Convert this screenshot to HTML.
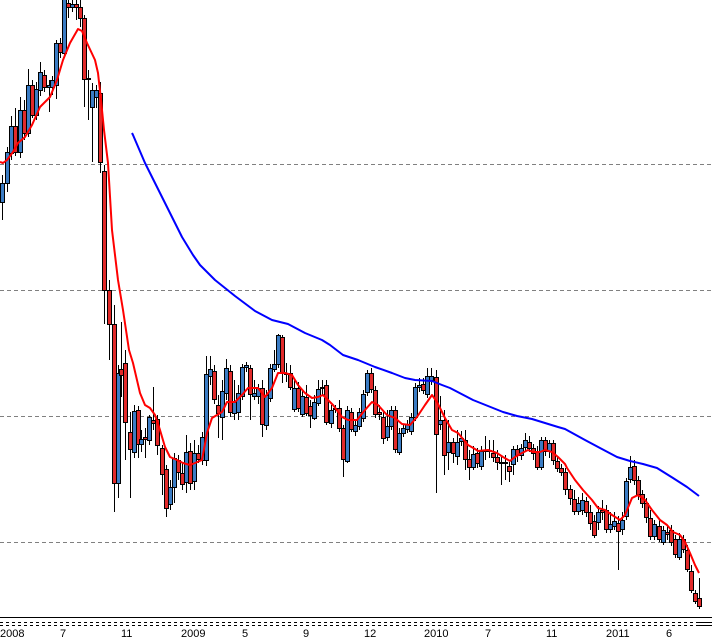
<!DOCTYPE html>
<html><head><meta charset="utf-8"><style>
html,body{margin:0;padding:0;background:#fff;}
svg{display:block;}
.b{fill:#3b7cc4;stroke:#000;stroke-width:1}
.r{fill:#e12a2a;stroke:#000;stroke-width:1}
text{font-family:"Liberation Sans",Arial,sans-serif;font-size:11px;fill:#000;}
</style></head><body>
<svg width="712" height="643" viewBox="0 0 712 643" xmlns="http://www.w3.org/2000/svg">
<rect width="712" height="643" fill="#fff"/>
<g stroke="#808080" stroke-width="1" stroke-dasharray="4,3" shape-rendering="crispEdges">
<line x1="0" y1="164.5" x2="712" y2="164.5"/>
<line x1="0" y1="290.5" x2="712" y2="290.5"/>
<line x1="0" y1="416.5" x2="712" y2="416.5"/>
<line x1="0" y1="542.5" x2="712" y2="542.5"/>
</g>
<path stroke="#000" stroke-width="1" fill="none" shape-rendering="crispEdges" d="M2.5 175V220M7.5 147V192M11.5 116V160M15.5 108V156M20.5 97V158M24.5 100V140M28.5 69V137M32.5 80V118M36.5 82V120M40.5 62V96M44.5 70V92M49.5 80V112M52.5 76V95M56.5 40V99M60.5 38V58M64.5 0V58M68.5 0V18M72.5 0V12M76.5 0V20M80.5 0V27M84.5 15V107M88.5 70V120M92.5 83V162M96.5 85V108M100.5 82V173M104.5 165V324M109.5 280V360M114.5 305V512M118.5 365V498M121.5 322V397M125.5 350V460M130.5 412V498M134.5 405V458M138.5 406V458M141.5 430V452M145.5 428V458M149.5 415V445M153.5 387V430M157.5 415V455M162.5 445V495M166.5 465V517M170.5 480V510M174.5 453V503M178.5 455V480M182.5 462V490M186.5 435V493M190.5 443V490M194.5 440V490M198.5 445V463M202.5 432V465M206.5 356V466M210.5 356V385M214.5 365V404M218.5 395V438M222.5 380V440M226.5 359V400M230.5 365V417M234.5 380V420M238.5 385V420M242.5 364V400M246.5 362V372M250.5 365V420M254.5 380V400M258.5 384V404M262.5 380V437M266.5 390V430M270.5 364V402M274.5 350V372M278.5 334V368M282.5 335V383M286.5 363V382M290.5 365V390M294.5 380V412M298.5 382V412M302.5 390V417M306.5 385V416M310.5 400V428M314.5 395V420M318.5 380V406M322.5 380V395M326.5 380V425M331.5 405V428M335.5 405V413M339.5 400V432M343.5 425V477M347.5 406V463M351.5 408V432M355.5 420V436M359.5 408V430M363.5 390V422M367.5 370V396M371.5 368V393M375.5 386V418M379.5 405V420M383.5 412V444M387.5 410V441M391.5 406V430M395.5 406V453M399.5 428V455M403.5 424V437M407.5 420V433M411.5 413V435M415.5 383V421M419.5 378V392M423.5 378V394M427.5 368V398M431.5 368V385M436.5 370V493M440.5 396V430M444.5 410V475M448.5 420V470M453.5 438V463M457.5 430V465M461.5 431V446M465.5 430V470M469.5 450V480M473.5 446V470M477.5 448V468M481.5 446V470M485.5 436V460M489.5 440V458M493.5 440V462M497.5 450V470M501.5 455V485M505.5 455V480M509.5 462V482M513.5 446V475M517.5 445V462M521.5 444V460M525.5 433V452M529.5 436V452M533.5 444V460M537.5 446V470M541.5 437V470M545.5 437V456M549.5 440V458M553.5 440V465M557.5 457V472M561.5 464V476M565.5 468V495M570.5 485V505M574.5 490V515M578.5 497V515M582.5 493V515M586.5 497V517M590.5 505V530M594.5 515V538M598.5 506V530M602.5 500V520M606.5 505V533M610.5 512V533M614.5 512V530M618.5 516V570M622.5 512V535M626.5 478V520M630.5 456V483M634.5 460V485M638.5 476V500M642.5 490V508M646.5 498V523M650.5 510V540M654.5 520V540M659.5 520V542M663.5 526V545M667.5 525V540M671.5 525V546M675.5 535V558M679.5 533V560M683.5 535V553M687.5 545V572M691.5 565V593M695.5 590V604M699.5 578V609"/>
<g shape-rendering="crispEdges">
<rect x="0.5" y="183.5" width="4" height="19" class="b"/>
<rect x="5.5" y="152.5" width="4" height="31" class="b"/>
<rect x="9.5" y="126.5" width="4" height="27" class="b"/>
<rect x="13.5" y="126.5" width="4" height="26" class="r"/>
<rect x="18.5" y="110.5" width="4" height="42" class="b"/>
<rect x="22.5" y="110.5" width="4" height="23" class="r"/>
<rect x="26.5" y="85.5" width="4" height="48" class="b"/>
<rect x="30.5" y="85.5" width="4" height="30" class="r"/>
<rect x="34.5" y="89.5" width="4" height="26" class="b"/>
<rect x="38.5" y="72.5" width="4" height="18" class="b"/>
<rect x="42.5" y="75.5" width="4" height="12" class="r"/>
<rect x="47.5" y="85.5" width="4" height="2" class="b"/>
<rect x="50.5" y="80.5" width="4" height="7" class="b"/>
<rect x="54.5" y="43.5" width="4" height="42" class="b"/>
<rect x="58.5" y="43.5" width="4" height="9" class="r"/>
<rect x="62.5" y="-1.5" width="4" height="55" class="b"/>
<rect x="66.5" y="3.5" width="4" height="4" class="r"/>
<rect x="70.5" y="4.5" width="4" height="3" class="b"/>
<rect x="74.5" y="4.5" width="4" height="3" class="r"/>
<rect x="78.5" y="7.5" width="4" height="11" class="r"/>
<rect x="82.5" y="18.5" width="4" height="61" class="r"/>
<rect x="86.5" y="78.5" width="4" height="1" class="r"/>
<rect x="90.5" y="90.5" width="4" height="17" class="b"/>
<rect x="94.5" y="90.5" width="4" height="7" class="b"/>
<rect x="98.5" y="93.5" width="4" height="69" class="r"/>
<rect x="102.5" y="171.5" width="4" height="119" class="r"/>
<rect x="107.5" y="290.5" width="4" height="34" class="r"/>
<rect x="112.5" y="324.5" width="4" height="159" class="r"/>
<rect x="116.5" y="373.5" width="4" height="110" class="b"/>
<rect x="119.5" y="369.5" width="4" height="6" class="r"/>
<rect x="123.5" y="363.5" width="4" height="59" class="r"/>
<rect x="128.5" y="432.5" width="4" height="17" class="r"/>
<rect x="132.5" y="411.5" width="4" height="41" class="b"/>
<rect x="136.5" y="410.5" width="4" height="34" class="r"/>
<rect x="139.5" y="439.5" width="4" height="5" class="b"/>
<rect x="143.5" y="437.5" width="4" height="2" class="r"/>
<rect x="147.5" y="417.5" width="4" height="23" class="b"/>
<rect x="151.5" y="420.5" width="4" height="3" class="r"/>
<rect x="155.5" y="419.5" width="4" height="26" class="r"/>
<rect x="160.5" y="448.5" width="4" height="26" class="r"/>
<rect x="164.5" y="469.5" width="4" height="39" class="r"/>
<rect x="168.5" y="487.5" width="4" height="17" class="b"/>
<rect x="172.5" y="458.5" width="4" height="29" class="b"/>
<rect x="176.5" y="460.5" width="4" height="12" class="r"/>
<rect x="180.5" y="473.5" width="4" height="11" class="r"/>
<rect x="184.5" y="452.5" width="4" height="30" class="b"/>
<rect x="188.5" y="451.5" width="4" height="32" class="r"/>
<rect x="192.5" y="453.5" width="4" height="28" class="b"/>
<rect x="196.5" y="453.5" width="4" height="6" class="r"/>
<rect x="200.5" y="437.5" width="4" height="23" class="b"/>
<rect x="204.5" y="374.5" width="4" height="86" class="b"/>
<rect x="208.5" y="369.5" width="4" height="7" class="b"/>
<rect x="212.5" y="371.5" width="4" height="28" class="r"/>
<rect x="216.5" y="405.5" width="4" height="8" class="r"/>
<rect x="220.5" y="391.5" width="4" height="26" class="b"/>
<rect x="224.5" y="368.5" width="4" height="25" class="b"/>
<rect x="228.5" y="371.5" width="4" height="41" class="r"/>
<rect x="232.5" y="402.5" width="4" height="11" class="b"/>
<rect x="236.5" y="393.5" width="4" height="19" class="b"/>
<rect x="240.5" y="367.5" width="4" height="29" class="b"/>
<rect x="244.5" y="365.5" width="4" height="2" class="b"/>
<rect x="248.5" y="368.5" width="4" height="26" class="r"/>
<rect x="252.5" y="393.5" width="4" height="3" class="b"/>
<rect x="256.5" y="388.5" width="4" height="8" class="b"/>
<rect x="260.5" y="388.5" width="4" height="36" class="r"/>
<rect x="264.5" y="395.5" width="4" height="30" class="b"/>
<rect x="268.5" y="368.5" width="4" height="30" class="b"/>
<rect x="272.5" y="364.5" width="4" height="5" class="b"/>
<rect x="276.5" y="335.5" width="4" height="29" class="b"/>
<rect x="280.5" y="337.5" width="4" height="36" class="r"/>
<rect x="284.5" y="373.5" width="4" height="1" class="r"/>
<rect x="288.5" y="373.5" width="4" height="14" class="r"/>
<rect x="292.5" y="388.5" width="4" height="21" class="b"/>
<rect x="296.5" y="388.5" width="4" height="20" class="r"/>
<rect x="300.5" y="396.5" width="4" height="18" class="b"/>
<rect x="304.5" y="397.5" width="4" height="16" class="r"/>
<rect x="308.5" y="406.5" width="4" height="9" class="r"/>
<rect x="312.5" y="402.5" width="4" height="16" class="b"/>
<rect x="316.5" y="389.5" width="4" height="14" class="b"/>
<rect x="320.5" y="387.5" width="4" height="1" class="b"/>
<rect x="324.5" y="385.5" width="4" height="37" class="r"/>
<rect x="329.5" y="410.5" width="4" height="13" class="b"/>
<rect x="333.5" y="408.5" width="4" height="1" class="r"/>
<rect x="337.5" y="408.5" width="4" height="20" class="r"/>
<rect x="341.5" y="428.5" width="4" height="31" class="r"/>
<rect x="345.5" y="410.5" width="4" height="51" class="b"/>
<rect x="349.5" y="412.5" width="4" height="17" class="r"/>
<rect x="353.5" y="425.5" width="4" height="6" class="b"/>
<rect x="357.5" y="412.5" width="4" height="14" class="b"/>
<rect x="361.5" y="394.5" width="4" height="24" class="b"/>
<rect x="365.5" y="373.5" width="4" height="19" class="b"/>
<rect x="369.5" y="373.5" width="4" height="16" class="r"/>
<rect x="373.5" y="390.5" width="4" height="24" class="r"/>
<rect x="377.5" y="412.5" width="4" height="2" class="r"/>
<rect x="381.5" y="417.5" width="4" height="21" class="r"/>
<rect x="385.5" y="426.5" width="4" height="11" class="b"/>
<rect x="389.5" y="410.5" width="4" height="16" class="b"/>
<rect x="393.5" y="410.5" width="4" height="39" class="r"/>
<rect x="397.5" y="433.5" width="4" height="19" class="b"/>
<rect x="401.5" y="428.5" width="4" height="5" class="b"/>
<rect x="405.5" y="424.5" width="4" height="5" class="b"/>
<rect x="409.5" y="417.5" width="4" height="14" class="b"/>
<rect x="413.5" y="387.5" width="4" height="30" class="b"/>
<rect x="417.5" y="385.5" width="4" height="2" class="b"/>
<rect x="421.5" y="384.5" width="4" height="6" class="r"/>
<rect x="425.5" y="376.5" width="4" height="18" class="b"/>
<rect x="429.5" y="376.5" width="4" height="4" class="b"/>
<rect x="434.5" y="377.5" width="4" height="57" class="r"/>
<rect x="438.5" y="420.5" width="4" height="4" class="b"/>
<rect x="442.5" y="420.5" width="4" height="35" class="r"/>
<rect x="446.5" y="442.5" width="4" height="10" class="b"/>
<rect x="451.5" y="442.5" width="4" height="11" class="r"/>
<rect x="455.5" y="442.5" width="4" height="14" class="b"/>
<rect x="459.5" y="438.5" width="4" height="3" class="b"/>
<rect x="463.5" y="440.5" width="4" height="19" class="r"/>
<rect x="467.5" y="459.5" width="4" height="8" class="r"/>
<rect x="471.5" y="454.5" width="4" height="13" class="b"/>
<rect x="475.5" y="453.5" width="4" height="10" class="r"/>
<rect x="479.5" y="451.5" width="4" height="15" class="b"/>
<rect x="483.5" y="450.5" width="4" height="1" class="b"/>
<rect x="487.5" y="450.5" width="4" height="1" class="r"/>
<rect x="491.5" y="453.5" width="4" height="4" class="r"/>
<rect x="495.5" y="457.5" width="4" height="5" class="r"/>
<rect x="499.5" y="462.5" width="4" height="1" class="r"/>
<rect x="503.5" y="462.5" width="4" height="1" class="b"/>
<rect x="507.5" y="466.5" width="4" height="5" class="r"/>
<rect x="511.5" y="449.5" width="4" height="15" class="b"/>
<rect x="515.5" y="449.5" width="4" height="6" class="r"/>
<rect x="519.5" y="448.5" width="4" height="7" class="b"/>
<rect x="523.5" y="440.5" width="4" height="7" class="b"/>
<rect x="527.5" y="442.5" width="4" height="6" class="r"/>
<rect x="531.5" y="448.5" width="4" height="5" class="r"/>
<rect x="535.5" y="451.5" width="4" height="16" class="r"/>
<rect x="539.5" y="440.5" width="4" height="27" class="b"/>
<rect x="543.5" y="440.5" width="4" height="11" class="r"/>
<rect x="547.5" y="443.5" width="4" height="8" class="b"/>
<rect x="551.5" y="443.5" width="4" height="17" class="r"/>
<rect x="555.5" y="461.5" width="4" height="7" class="r"/>
<rect x="559.5" y="468.5" width="4" height="4" class="r"/>
<rect x="563.5" y="472.5" width="4" height="17" class="r"/>
<rect x="568.5" y="489.5" width="4" height="9" class="r"/>
<rect x="572.5" y="499.5" width="4" height="12" class="r"/>
<rect x="576.5" y="503.5" width="4" height="8" class="b"/>
<rect x="580.5" y="500.5" width="4" height="10" class="b"/>
<rect x="584.5" y="501.5" width="4" height="11" class="r"/>
<rect x="588.5" y="512.5" width="4" height="11" class="r"/>
<rect x="592.5" y="521.5" width="4" height="14" class="r"/>
<rect x="596.5" y="512.5" width="4" height="10" class="b"/>
<rect x="600.5" y="510.5" width="4" height="2" class="r"/>
<rect x="604.5" y="510.5" width="4" height="19" class="r"/>
<rect x="608.5" y="524.5" width="4" height="5" class="b"/>
<rect x="612.5" y="521.5" width="4" height="5" class="b"/>
<rect x="616.5" y="523.5" width="4" height="8" class="r"/>
<rect x="620.5" y="520.5" width="4" height="9" class="b"/>
<rect x="624.5" y="481.5" width="4" height="35" class="b"/>
<rect x="628.5" y="467.5" width="4" height="12" class="b"/>
<rect x="632.5" y="466.5" width="4" height="14" class="r"/>
<rect x="636.5" y="480.5" width="4" height="14" class="r"/>
<rect x="640.5" y="494.5" width="4" height="9" class="r"/>
<rect x="644.5" y="503.5" width="4" height="14" class="r"/>
<rect x="648.5" y="518.5" width="4" height="18" class="r"/>
<rect x="652.5" y="524.5" width="4" height="12" class="b"/>
<rect x="657.5" y="526.5" width="4" height="13" class="r"/>
<rect x="661.5" y="530.5" width="4" height="12" class="b"/>
<rect x="665.5" y="532.5" width="4" height="2" class="r"/>
<rect x="669.5" y="530.5" width="4" height="12" class="r"/>
<rect x="673.5" y="539.5" width="4" height="15" class="r"/>
<rect x="677.5" y="539.5" width="4" height="18" class="b"/>
<rect x="681.5" y="539.5" width="4" height="10" class="r"/>
<rect x="685.5" y="550.5" width="4" height="19" class="r"/>
<rect x="689.5" y="571.5" width="4" height="19" class="r"/>
<rect x="693.5" y="593.5" width="4" height="8" class="r"/>
<rect x="697.5" y="598.5" width="4" height="8" class="r"/>
</g>
<polyline fill="none" stroke="#ff0000" stroke-width="2" stroke-linejoin="round" points="0,162 3,163 7,160 13,152 18,143 25,137 32,125 40,107 50,97 57,80 63,60 70,43 78,29 82,31 87,43 95,60 98,73 101,100 104,130 108,163 112,230 118,280 123,310 129,350 133,363 140,393 145,405 150,408 155,415 160,430 165,447 170,457 177,460 183,463 190,465 195,463 202,460 207,433 212,418 217,415 222,412 227,402 235,402 242,395 248,388 258,388 265,397 272,388 278,373 285,373 292,375 298,385 305,393 312,398 318,397 323,395 328,400 333,405 342,417 348,420 357,420 365,410 372,402 378,405 387,415 395,418 402,424 410,425 417,417 425,405 432,395 437,402 445,418 452,430 458,433 463,439 468,445 475,449 478,451 488,450 497,453 503,457 510,461 515,457 522,453 528,450 533,452 540,452 545,450 552,452 558,457 565,464 567,468 575,480 583,490 592,500 598,508 605,510 612,515 620,520 625,515 632,498 638,495 645,500 652,510 660,520 667,525 673,532 680,535 685,542 690,553 695,565 699,573"/>
<polyline fill="none" stroke="#0000ff" stroke-width="2" stroke-linejoin="round" points="132,133 133,135 145,163 157,187 170,213 182,237 193,255 200,265 215,280 235,296 255,311 272,320 288,324 305,333 322,340 330,345 343,355 358,360 375,367 392,373 405,378 415,380 432,381 442,385 450,388 473,400 488,406 503,412 517,416 532,419 545,423 558,427 565,429 585,440 600,448 617,457 630,461 643,464 657,468 673,478 687,487 699,496"/>
<g shape-rendering="crispEdges">
<line x1="0" y1="617.5" x2="712" y2="617.5" stroke="#000" stroke-width="1"/>
<line x1="0" y1="622.5" x2="699" y2="622.5" stroke="#000" stroke-width="1" stroke-dasharray="3,3"/>
<line x1="0" y1="625.5" x2="699" y2="625.5" stroke="#000" stroke-width="1" stroke-dasharray="3,3"/>
<line x1="699" y1="622.5" x2="712" y2="622.5" stroke="#000" stroke-width="1"/>
<line x1="699" y1="625.5" x2="712" y2="625.5" stroke="#000" stroke-width="1"/>
</g>
<text x="0" y="637">2008</text>
<text x="60" y="637">7</text>
<text x="121" y="637">11</text>
<text x="181" y="637">2009</text>
<text x="242" y="637">5</text>
<text x="303" y="637">9</text>
<text x="364" y="637">12</text>
<text x="424" y="637">2010</text>
<text x="485" y="637">7</text>
<text x="546" y="637">11</text>
<text x="606" y="637">2011</text>
<text x="666" y="637">6</text>
</svg>
</body></html>
